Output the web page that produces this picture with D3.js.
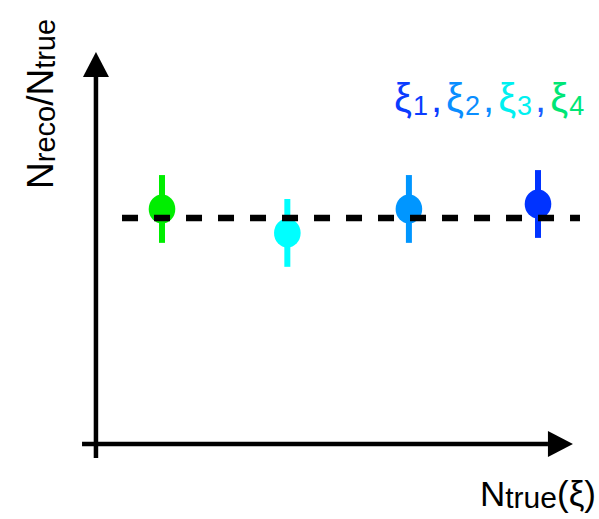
<!DOCTYPE html>
<head>
    <meta charset="utf-8">
    <script src="https://d3js.org/d3.v7.min.js"></script>
    <style>
        body { margin:0; background:#fff; }
        svg { display:block; font-family:"Liberation Sans", Arial, Helvetica, sans-serif; }
    </style>
</head>
<body>
<div id="chart"></div>
<script>

    // ******************** Data ************************
    // points left to right: xi4, xi3, xi2, xi1
    var xVals  = [1, 2, 2.97, 4];
    var ratio  = [1.04, 0.934, 1.04, 1.062];
    var errs   = [0.15, 0.15, 0.15, 0.15];
    var pointColors = ["#00ee00", "#00ffff", "#0096ff", "#0033ff"];

    var legendSubs   = ["1", "2", "3", "4"];
    var legendColors = ["#0a3cff", "#0a8eff", "#00f0f0", "#00e676"];
    var commaColors  = ["#0a3cff", "#0a8eff", "#1a5cff"];

    var refValue = 1.0;
    var xExtent = [0.362, 4.279];   // x axis line, data units
    var yExtent = [-0.062, 1.735];  // y axis line, data units
    var refExtent = [0.681, 4.335]; // dashed reference line

    // ******************** Scales ************************
    var x = d3.scaleLinear().domain([1, 4]).range([162, 538]);
    var y = d3.scaleLinear().domain([0, 1]).range([444, 218]);
    var x0 = x(0.473); // y axis position

    var svg = d3.select("#chart").append("svg")
        .attr("width", 599)
        .attr("height", 519);

    // ******************** Axes ************************
    var arrow = 25, half = 13;
    svg.append("line")
        .attr("x1", x0).attr("x2", x0)
        .attr("y1", y(yExtent[0])).attr("y2", y(yExtent[1]) + arrow)
        .attr("stroke", "#000").attr("stroke-width", 4.5);
    svg.append("path")
        .attr("d", "M" + x0 + "," + y(yExtent[1]) +
                   "L" + (x0 - half) + "," + (y(yExtent[1]) + arrow) +
                   "L" + (x0 + half) + "," + (y(yExtent[1]) + arrow) + "Z")
        .attr("fill", "#000");

    svg.append("line")
        .attr("x1", x(xExtent[0])).attr("x2", x(xExtent[1]) - arrow)
        .attr("y1", y(0)).attr("y2", y(0))
        .attr("stroke", "#000").attr("stroke-width", 4.5);
    svg.append("path")
        .attr("d", "M" + x(xExtent[1]) + "," + y(0) +
                   "L" + (x(xExtent[1]) - arrow) + "," + (y(0) - half) +
                   "L" + (x(xExtent[1]) - arrow) + "," + (y(0) + half) + "Z")
        .attr("fill", "#000");

    // ******************** Points ************************
    var pts = d3.range(xVals.length).map(function (i) {
        return {x: xVals[i], v: ratio[i], e: errs[i], c: pointColors[i]};
    });

    var g = svg.append("g");
    g.selectAll("line.err")
        .data(pts).enter().append("line")
        .attr("class", "err")
        .attr("x1", function (d) { return x(d.x); })
        .attr("x2", function (d) { return x(d.x); })
        .attr("y1", function (d) { return y(d.v - d.e); })
        .attr("y2", function (d) { return y(d.v + d.e); })
        .attr("stroke", function (d) { return d.c; })
        .attr("stroke-width", 6);
    g.selectAll("ellipse")
        .data(pts).enter().append("ellipse")
        .attr("cx", function (d) { return x(d.x); })
        .attr("cy", function (d) { return y(d.v); })
        .attr("rx", 13.3).attr("ry", 14.5)
        .attr("fill", function (d) { return d.c; });

    // dashed reference line on top
    svg.append("line")
        .attr("x1", x(refExtent[0])).attr("x2", x(refExtent[1]))
        .attr("y1", y(refValue)).attr("y2", y(refValue))
        .attr("stroke", "#000").attr("stroke-width", 6.5)
        .attr("stroke-dasharray", "16,16");

    // ******************** Legend ************************
    var leg = svg.append("text")
        .attr("x", 394).attr("y", 112)
        .style("font-size", "40px");
    legendSubs.forEach(function (s, i) {
        leg.append("tspan").text("ξ").attr("fill", legendColors[i])
            .attr("dx", i ? 4 : 0);
        leg.append("tspan").text(s).attr("fill", legendColors[i])
            .style("font-size", "27px").attr("dy", 3).attr("dx", 1);
        if (i < legendSubs.length - 1) {
            leg.append("tspan").text(",").attr("fill", commaColors[i])
                .attr("dy", -3).attr("dx", 3);
        }
    });

    // ******************** Axis labels ************************
    var yl = svg.append("text")
        .attr("transform", "translate(53,189) rotate(-90)")
        .style("font-size", "37px");
    yl.append("tspan").text("N");
    yl.append("tspan").text("reco").style("font-size", "29px").attr("dy", 2);
    yl.append("tspan").text("/N").attr("dy", -2);
    yl.append("tspan").text("true").style("font-size", "29px").attr("dy", 2);

    var xl = svg.append("text")
        .attr("x", 480).attr("y", 506)
        .style("font-size", "35px");
    xl.append("tspan").text("N");
    xl.append("tspan").text("true").style("font-size", "30px").attr("dy", 2);
    xl.append("tspan").text("(ξ)").attr("dy", -2);

</script>
</body>
